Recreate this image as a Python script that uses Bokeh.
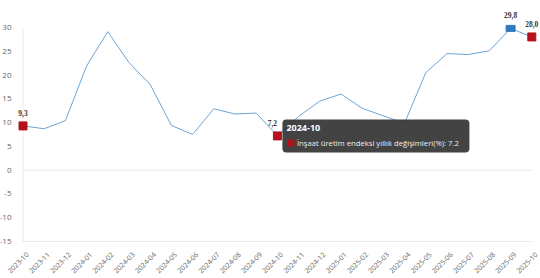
import math
from bokeh.plotting import figure
from bokeh.models import (Range1d, FixedTicker, ColumnDataSource, LabelSet, Label,
                          BoxAnnotation, CustomJSTickFormatter)
from bokeh.embed import file_html
from bokeh.resources import INLINE

months = ["2023-10", "2023-11", "2023-12", "2024-01", "2024-02", "2024-03", "2024-04",
          "2024-05", "2024-06", "2024-07", "2024-08", "2024-09", "2024-10", "2024-11",
          "2024-12", "2025-01", "2025-02", "2025-03", "2025-04", "2025-05", "2025-06",
          "2025-07", "2025-08", "2025-09", "2025-10"]
values = [9.3, 8.7, 10.4, 21.9, 29.1, 22.6, 18.0, 9.4, 7.5, 12.9, 11.8, 12.0, 7.2, 11.3,
          14.5, 16.0, 13.0, 11.4, 9.9, 20.5, 24.5, 24.3, 25.1, 29.8, 28.0]
y_ticks = [-15, -10, -5, 0, 5, 10, 15, 20, 25, 30]
y_tick_labels = ["-15", "-10", "-5", "0", "5", "10", "15", "20", "25", "30"]
grid_values = [-15, 0]
series_name = "İnşaat üretim endeksi yıllık değişimleri(%)"

red_idx = [0, 12, 24]
blue_idx = [23]
label_idx = [0, 12, 23, 24]
tip_idx = 12

FONT = "Open Sans"
LINE = "#6ea4d6"
RED = "#b3121c"
BLUE = "#2f7bbf"

x = list(range(len(months)))

# pixel scale of the plot frame (frame spans the whole canvas)
PXU = 21.2    # pixels per month
PYU = 4.757   # pixels per percentage point
LABEL_SHIFT = 4.5 / PXU   # rotated month labels sit a little right of their point

p = figure(width=540, height=278, output_backend="svg", toolbar_location=None,
           x_range=Range1d(-22.5 / PXU, x[-1] + 8.7 / PXU),
           y_range=Range1d(y_ticks[0] - 37 / PYU, y_ticks[0] + 241 / PYU),
           min_border_left=0, min_border_right=0, min_border_top=0, min_border_bottom=0)
p.outline_line_color = None
p.background_fill_color = "white"
p.border_fill_color = "white"
p.xgrid.visible = False
p.ygrid.visible = False

# axes (placed inside the frame)
p.yaxis.fixed_location = -2.5 / PXU
p.yaxis.ticker = FixedTicker(ticks=y_ticks)
p.yaxis.major_label_overrides = dict(zip(y_ticks, y_tick_labels))
p.yaxis.axis_line_color = None
p.yaxis.major_tick_line_color = None
p.yaxis.minor_tick_line_color = None
p.yaxis.major_label_standoff = 3
p.yaxis.major_label_text_font = FONT
p.yaxis.major_label_text_font_size = "8px"
p.yaxis.major_label_text_color = "#666666"

p.xaxis.fixed_location = y_ticks[0]
p.xaxis.ticker = FixedTicker(ticks=[i + LABEL_SHIFT for i in x])
p.xaxis.formatter = CustomJSTickFormatter(args=dict(months=months, off=LABEL_SHIFT),
                                          code="return months[Math.round(tick - off)]")
p.xaxis.major_label_orientation = math.pi / 4
p.xaxis.axis_line_color = None
p.xaxis.major_tick_line_color = None
p.xaxis.minor_tick_line_color = None
p.xaxis.major_label_standoff = 6
p.xaxis.major_label_text_font = FONT
p.xaxis.major_label_text_font_size = "7px"
p.xaxis.major_label_text_color = "#666666"

# grid lines (only at 0 and -15) and left vertical line
p.segment(x0=[x[0]] * len(grid_values), x1=[x[-1]] * len(grid_values),
          y0=grid_values, y1=grid_values, line_color="#ebebeb", line_width=1)
p.segment(x0=[x[0]], x1=[x[0]], y0=[y_ticks[0]], y1=[y_ticks[-1]],
          line_color="#ebebeb", line_width=1)

# series line
p.line(x, values, line_color=LINE, line_width=1)

# markers
p.scatter([x[i] for i in red_idx], [values[i] for i in red_idx], marker="square",
          size=8, fill_color=RED, line_color=RED)
p.rect([x[i] for i in blue_idx], [values[i] for i in blue_idx], width=9, height=6,
       width_units="screen", height_units="screen", fill_color=BLUE, line_color=BLUE)

# data labels
lab_src = ColumnDataSource(dict(
    x=[x[i] for i in label_idx],
    y=[values[i] for i in label_idx],
    t=[f"{values[i]:.1f}".replace(".", ",") for i in label_idx],
    xo=[0 if i != tip_idx else -5 for i in label_idx],
))
p.add_layout(LabelSet(x="x", y="y", text="t", source=lab_src, x_offset="xo", y_offset=10,
                      text_align="center", text_baseline="bottom",
                      text_font=FONT, text_font_size="7.5px", text_font_style="bold",
                      text_color="#333333"))

# static tooltip at the hovered point
tx, ty = x[tip_idx], values[tip_idx]
p.add_layout(BoxAnnotation(left=tx + 5 / PXU, right=tx + 192 / PXU,
                           top=ty + 16.5 / PYU, bottom=ty - 16.5 / PYU,
                           fill_color="#333333", fill_alpha=0.92, line_color=None,
                           border_radius=4, level="overlay"))
p.add_layout(BoxAnnotation(left=tx + 10 / PXU, right=tx + 17 / PXU,
                           top=ty - 3.5 / PYU, bottom=ty - 10.5 / PYU,
                           fill_color=RED, fill_alpha=1, line_color=None, level="overlay"))
p.add_layout(Label(x=tx, y=ty, x_offset=9, y_offset=8, text=months[tip_idx],
                   text_font=FONT, text_font_size="9px", text_font_style="bold",
                   text_color="white", text_baseline="middle", level="overlay"))
p.add_layout(Label(x=tx, y=ty, x_offset=19.5, y_offset=-7,
                   text=f"{series_name}: {values[tip_idx]}",
                   text_font=FONT, text_font_size="7.7px",
                   text_color="#eeeeee", text_baseline="middle", level="overlay"))

open("out.html", "w").write(file_html(p, INLINE))
